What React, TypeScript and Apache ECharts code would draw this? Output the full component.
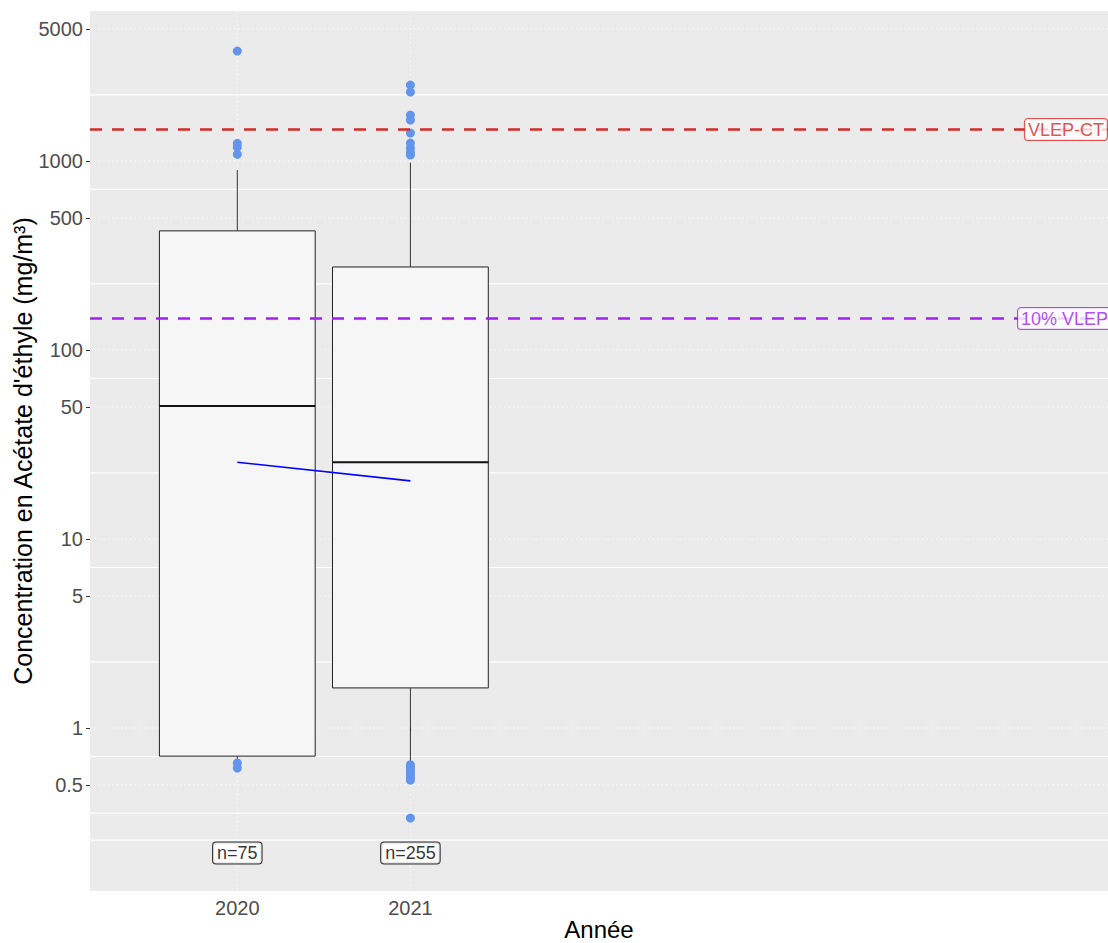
import React, { useEffect, useRef } from "react";
import * as echarts from "echarts";

// ---- data (mg/m³) ----
const years = [2020, 2021];
const counts = [75, 255];
const whiskerLow = [0.68, 0.66];
const q1 = [0.71, 1.63];
const median = [50.6, 25.5];
const q3 = [427, 275];
const whiskerHigh = [896, 980];
const outliers2020 = [3819, 1241, 1181, 1085, 0.653, 0.614];
const outliers2021 = [2523, 2317, 1750, 1648, 1406, 1245, 1171, 1110, 1076, 0.64, 0.62, 0.6, 0.58, 0.56, 0.54, 0.53, 0.334];
const trendValues = [25.5, 20.3];
const vlepCT = 1468;
const vlep10 = 146.8;
const refLabels = ["VLEP-CT", "10% VLEP-CT"];
const yTickValues = [0.5, 1, 5, 10, 50, 100, 500, 1000, 5000];
const yMinorGrid = [0.255, 0.354, 0.707, 2.236, 7.07, 22.36, 70.7, 223.6, 707, 2236];
const yRange = [0.1373, 6219];
const xRange = [2019.149, 2025.03];
const refLabelX = [2024.55, 2024.51];
const nLabelAt = 0.218;

const L = (v: number) => Math.log10(v);
const FONT = "Liberation Sans, Arial, sans-serif";

export default function App() {
  const ref = useRef<HTMLDivElement>(null);
  useEffect(() => {
    document.body.style.margin = "0";
    const chart = echarts.init(ref.current!, undefined, { renderer: "svg" });

    const gridData = [
      ...yTickValues.map((v) => [L(v), 0]),
      ...yMinorGrid.map((v) => [L(v), 1]),
    ];
    const boxData = years.map((y, i) => [y, L(whiskerLow[i]), L(q1[i]), L(median[i]), L(q3[i]), L(whiskerHigh[i])]);
    const outlierData = [
      ...outliers2020.map((v) => [years[0], L(v)]),
      ...outliers2021.map((v) => [years[1], L(v)]),
    ];

    const option: any = {
      animation: false,
      textStyle: { fontFamily: FONT },
      grid: {
        left: 90, right: 0, top: 11, bottom: 52,
        outerBoundsMode: "none",
        containLabel: false,
        show: true, backgroundColor: "#EBEBEB", borderWidth: 0,
      },
      xAxis: {
        type: "value",
        min: xRange[0], max: xRange[1],
        name: "Année",
        nameLocation: "middle",
        nameGap: 28,
        nameMoveOverlap: false,
        nameTextStyle: { color: "#000", fontSize: 24, lineHeight: 20, fontFamily: FONT },
        axisLine: { show: false },
        axisTick: { show: true, length: 4, lineStyle: { color: "#333" }, customValues: years },
        axisLabel: { color: "#4D4D4D", fontSize: 20, margin: 7, fontFamily: FONT, customValues: years, formatter: (v: number) => String(Math.round(v)) },
        splitLine: { show: false },
      },
      yAxis: {
        type: "value",
        min: L(yRange[0]), max: L(yRange[1]),
        name: "Concentration en Acétate d'éthyle (mg/m³)",
        nameLocation: "middle",
        nameGap: 55,
        nameMoveOverlap: false,
        nameRotate: 90,
        nameTextStyle: { color: "#000", fontSize: 25, lineHeight: 25, fontFamily: FONT },
        axisLine: { show: false },
        axisTick: { show: true, length: 4, lineStyle: { color: "#333" }, customValues: yTickValues.map(L) },
        axisLabel: {
          color: "#4D4D4D", fontSize: 20, margin: 7, fontFamily: FONT,
          customValues: yTickValues.map(L),
          formatter: (v: number) => String(Math.round(Math.pow(10, v) * 1000) / 1000),
        },
        splitLine: { show: false },
      },
      series: [
        {
          type: "custom",
          z: 1,
          silent: true,
          data: gridData,
          renderItem: (params: any, api: any) => {
            const cs = params.coordSys;
            const p = api.coord([xRange[0], api.value(0)]);
            const major = api.value(1) === 0;
            return {
              type: "line",
              shape: { x1: cs.x, y1: p[1], x2: cs.x + cs.width, y2: p[1] },
              style: major
                ? { stroke: "#FFFFFF", lineWidth: 1, lineDash: [1, 3.5] }
                : { stroke: "#FFFFFF", lineWidth: 1.2 },
            };
          },
        },
        {
          type: "custom",
          z: 1,
          silent: true,
          data: years.map((y) => [y]),
          renderItem: (params: any, api: any) => {
            const cs = params.coordSys;
            const p = api.coord([api.value(0), L(yRange[0])]);
            return {
              type: "line",
              shape: { x1: p[0], y1: cs.y, x2: p[0], y2: cs.y + cs.height },
              style: { stroke: "#FFFFFF", lineWidth: 1, lineDash: [1, 3.5] },
            };
          },
        },
        {
          type: "custom",
          z: 2,
          silent: true,
          data: boxData,
          renderItem: (params: any, api: any) => {
            const x = api.value(0);
            const lo = api.coord([x, api.value(1)]);
            const b1 = api.coord([x, api.value(2)]);
            const md = api.coord([x, api.value(3)]);
            const b3 = api.coord([x, api.value(4)]);
            const hi = api.coord([x, api.value(5)]);
            const half = api.size([0.9, 0])[0] / 2;
            const ln = { stroke: "#333333", lineWidth: 1 };
            return {
              type: "group",
              children: [
                { type: "line", shape: { x1: hi[0], y1: hi[1], x2: b3[0], y2: b3[1] }, style: ln },
                { type: "line", shape: { x1: lo[0], y1: lo[1], x2: b1[0], y2: b1[1] }, style: ln },
                {
                  type: "rect",
                  shape: { x: b3[0] - half, y: b3[1], width: 2 * half, height: b1[1] - b3[1] },
                  style: { fill: "#F6F6F6", stroke: "#222222", lineWidth: 1 },
                },
                { type: "line", shape: { x1: md[0] - half, y1: md[1], x2: md[0] + half, y2: md[1] }, style: { stroke: "#111111", lineWidth: 2 } },
              ],
            };
          },
        },
        {
          type: "scatter",
          z: 3,
          silent: true,
          symbolSize: 9,
          itemStyle: { color: "#6495ED", opacity: 1 },
          data: outlierData,
        },
        {
          type: "line",
          z: 4,
          silent: true,
          symbol: "none",
          lineStyle: { color: "#0000FF", width: 1.6 },
          data: years.map((y, i) => [y, L(trendValues[i])]),
        },
        {
          type: "line",
          z: 5,
          silent: true,
          symbol: "none",
          lineStyle: { color: "#D42A2A", width: 2.5, type: [12, 10] },
          data: [[xRange[0], L(vlepCT)], [xRange[1], L(vlepCT)]],
        },
        {
          type: "line",
          z: 5,
          silent: true,
          symbol: "none",
          lineStyle: { color: "#A020F0", width: 2.5, type: [12, 10] },
          data: [[xRange[0], L(vlep10)], [xRange[1], L(vlep10)]],
        },
        {
          type: "scatter",
          z: 6,
          silent: true,
          symbolSize: 0,
          data: [
            { value: [refLabelX[0], L(vlepCT)], name: refLabels[0], c: "#D42A2A" },
            { value: [refLabelX[1], L(vlep10)], name: refLabels[1], c: "#A020F0" },
          ].map((d) => ({
            value: d.value,
            name: d.name,
            label: {
              show: true,
              position: "right",
              distance: 0,
              formatter: d.name,
              color: d.c,
              fontSize: 18,
              fontFamily: FONT,
              backgroundColor: "#FFFFFF",
              borderColor: d.c,
              borderWidth: 1,
              borderRadius: 3,
              padding: [2, 3, 1, 3],
            },
          })),
        },
        {
          type: "scatter",
          z: 6,
          silent: true,
          symbolSize: 0,
          data: years.map((y, i) => ({
            value: [y, L(nLabelAt)],
            label: {
              show: true,
              position: "inside",
              formatter: "n=" + counts[i],
              color: "#000",
              fontSize: 18,
              fontFamily: FONT,
              backgroundColor: "#FFFFFF",
              borderColor: "#000",
              borderWidth: 1,
              borderRadius: 3,
              padding: [2, 4, 1, 4],
            },
          })),
        },
      ],
    };
    chart.setOption(option);
    return () => chart.dispose();
  }, []);
  return <div ref={ref} style={{ width: 1108, height: 943 }} />;
}
